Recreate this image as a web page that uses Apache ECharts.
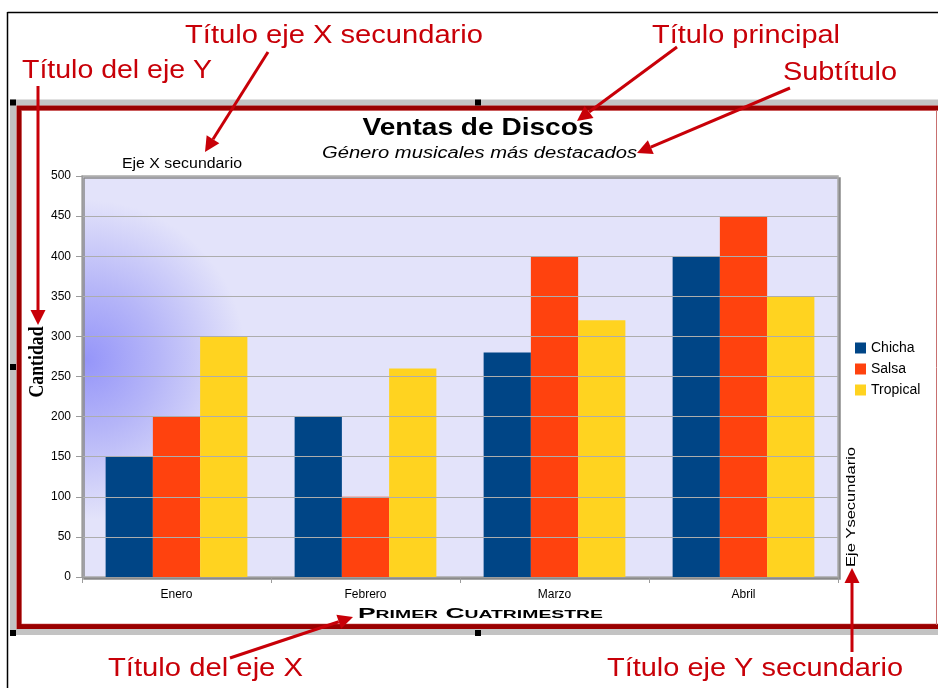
<!DOCTYPE html>
<html>
<head>
<meta charset="utf-8">
<title>Ventas de Discos</title>
<script src="https://cdn.jsdelivr.net/npm/echarts@6/dist/echarts.min.js"></script>
<style>
  html, body { margin: 0; padding: 0; background: #ffffff; }
  #chart { width: 938px; height: 688px; }
</style>
</head>
<body>
<div id="chart"></div>
<script>
// Data: record sales per month and genre
const months = ['Enero', 'Febrero', 'Marzo', 'Abril'];
const chicha = [150, 200, 280, 400];
const salsa = [200, 100, 400, 450];
const tropical = [300, 260, 320, 350];
const genreNames = ['Chicha', 'Salsa', 'Tropical'];
const genreColors = ['#004586', '#FF420E', '#FFD320'];
const yMin = 0, yMax = 500, yStep = 50;

const RED = '#C80008';
const SANS = '"Liberation Sans", Arial, sans-serif';
const SERIF = '"Liberation Serif", "Times New Roman", serif';

// Horizontal stretch factor so a string spans a given width
const measureCtx = document.createElement('canvas').getContext('2d');
function stretch(text, font, width) {
  measureCtx.font = font;
  return width / measureCtx.measureText(text).width;
}

function label(text, font, cx, cy, width, fill, extra) {
  return Object.assign({
    type: 'text', x: cx, y: cy,
    scaleX: stretch(text, font, width),
    z: 100,
    style: { text: text, font: font, fill: fill || '#000', align: 'center', verticalAlign: 'middle' }
  }, extra || {});
}

function arrow(x1, y1, x2, y2) {
  const dx = x2 - x1, dy = y2 - y1, len = Math.hypot(dx, dy);
  const ux = dx / len, uy = dy / len, hl = 15, hw = 7.5;
  const bx = x2 - ux * hl, by = y2 - uy * hl;
  return [
    { type: 'line', z: 110, shape: { x1: x1, y1: y1, x2: bx, y2: by }, style: { stroke: RED, lineWidth: 3 } },
    { type: 'polygon', z: 110, shape: { points: [[x2, y2], [bx - uy * hw, by + ux * hw], [bx + uy * hw, by - ux * hw]] }, style: { fill: RED } }
  ];
}

function handle(cx, cy) {
  return { type: 'rect', z: 20, shape: { x: cx - 3, y: cy - 3, width: 6, height: 6 }, style: { fill: '#000' } };
}

const annoFont = '25px ' + SANS;

const graphics = [
  // outer page lines
  { type: 'line', z: 5, shape: { x1: 7.5, y1: 12.5, x2: 940, y2: 12.5 }, style: { stroke: '#000', lineWidth: 1.5 } },
  { type: 'line', z: 5, shape: { x1: 7.5, y1: 12, x2: 7.5, y2: 690 }, style: { stroke: '#000', lineWidth: 1.5 } },
  // selection band and chart border
  { type: 'rect', z: 6, shape: { x: 13, y: 102.5, width: 940, height: 529.5 }, style: { fill: null, stroke: '#C3C3C3', lineWidth: 6 } },
  { type: 'rect', z: 7, shape: { x: 19, y: 108, width: 930, height: 518.5 }, style: { fill: null, stroke: '#9A0000', lineWidth: 5 } },
  { type: 'rect', z: 8, shape: { x: 21.5, y: 110.5, width: 930, height: 513.5 }, style: { fill: null, stroke: 'rgba(200,60,60,0.5)', lineWidth: 1 } },
  { type: 'line', z: 8, shape: { x1: 936.5, y1: 110, x2: 936.5, y2: 625 }, style: { stroke: '#C87070', lineWidth: 1 } },
  handle(13, 102.5), handle(478, 102.5), handle(13, 367), handle(13, 633), handle(478, 633),

  // chart titles
  label('Ventas de Discos', 'bold 23px ' + SANS, 478, 129, 231),
  label('Género musicales más destacados', 'italic 16px ' + SANS, 479.5, 153.5, 315),
  label('Eje X secundario', '14px ' + SANS, 182, 164, 120),
  label('Primer Cuatrimestre', 'small-caps bold 15px ' + SANS, 480.5, 614, 245),
  label('Eje Ysecundario', '13px ' + SANS, 851.5, 507, 120, '#000', { rotation: Math.PI / 2 }),
  label('Cantidad', 'bold 22px ' + SERIF, 37, 362, 71, '#000', { rotation: Math.PI / 2 }),

  // callouts
  label('Título eje X secundario', annoFont, 334, 36.5, 298, RED),
  label('Título del eje Y', annoFont, 117, 71, 190, RED),
  label('Título principal', annoFont, 746, 36, 188, RED),
  label('Subtítulo', annoFont, 840, 73, 114, RED),
  label('Título del eje X', annoFont, 205.5, 669, 195, RED),
  label('Título eje Y secundario', annoFont, 755, 669, 296, RED)
].concat(
  arrow(268, 52, 205, 152),
  arrow(38, 86, 38, 325),
  arrow(677, 47, 577, 121),
  arrow(790, 88, 637, 153),
  arrow(230, 658, 353, 617),
  arrow(852, 652, 852, 568)
);

const chart = echarts.init(document.getElementById('chart'), null, { renderer: 'canvas' });

const seriesData = [chicha, salsa, tropical];

chart.setOption({
  backgroundColor: '#ffffff',
  animation: false,
  textStyle: { fontFamily: SANS },
  grid: {
    left: 82, right: 100, top: 176, bottom: 111,
    outerBoundsMode: 'none',
    show: true,
    z: 30,
    borderColor: '#ABABAB',
    borderWidth: 1.5,
    shadowColor: '#8A8A8A',
    shadowOffsetX: 2,
    shadowOffsetY: 2,
    shadowBlur: 0,
    backgroundColor: {
      type: 'radial', x: 86, y: 360, r: 160, global: true,
      colorStops: [
        { offset: 0, color: '#9595F9' },
        { offset: 0.45, color: '#B6B6F8' },
        { offset: 1, color: '#E3E3FA' }
      ]
    }
  },
  legend: {
    data: genreNames,
    orient: 'vertical',
    left: 855, top: 341,
    z: 120,
    padding: 0,
    itemWidth: 11, itemHeight: 11, itemGap: 7,
    icon: 'rect',
    textStyle: { fontSize: 14, color: '#000', fontFamily: SANS }
  },
  xAxis: {
    type: 'category',
    data: months,
    z: 40,
    axisLine: { lineStyle: { color: '#9C9C9C', width: 1 } },
    axisTick: { show: true, length: 6, alignWithLabel: false, lineStyle: { color: '#9C9C9C' } },
    axisLabel: { fontSize: 12, color: '#000', margin: 12, fontFamily: SANS },
    splitLine: { show: false }
  },
  yAxis: {
    type: 'value',
    min: yMin, max: yMax, interval: yStep,
    z: 40,
    axisLine: { show: true, lineStyle: { color: '#9C9C9C', width: 1 } },
    axisTick: { show: true, length: 6, lineStyle: { color: '#9C9C9C' } },
    axisLabel: { fontSize: 12, color: '#000', margin: 11, fontFamily: SANS },
    splitLine: { show: true, lineStyle: { color: '#ADADAD', width: 1 } }
  },
  series: genreNames.map(function (name, i) {
    return {
      name: name,
      type: 'bar',
      z: 35,
      data: seriesData[i],
      itemStyle: { color: genreColors[i] },
      barGap: '0%',
      barCategoryGap: '25%'
    };
  }),
  graphic: { elements: graphics }
});
</script>
</body>
</html>
